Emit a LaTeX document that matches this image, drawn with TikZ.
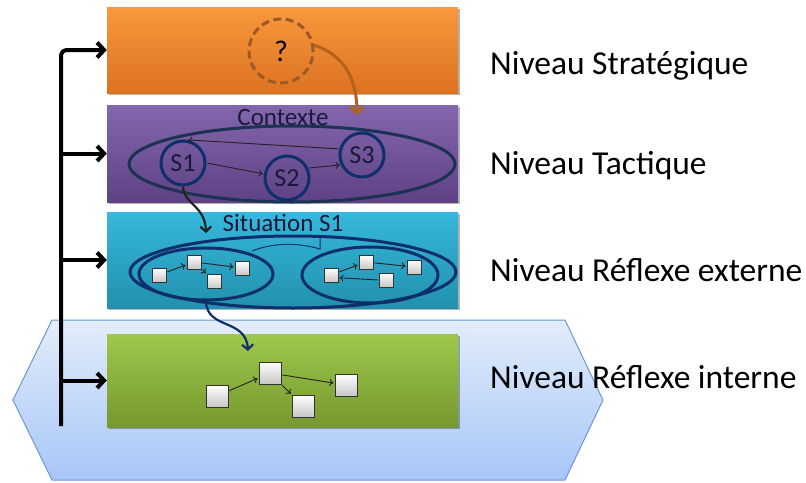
\documentclass[tikz,border=0pt]{standalone}
\usepackage{fontspec}
\setmainfont{Carlito}
\usetikzlibrary{arrows.meta,shapes.geometric,shadows}
\definecolor{orT}{HTML}{F9983C}
\definecolor{orB}{HTML}{DC7222}
\definecolor{puT}{HTML}{8466AE}
\definecolor{puB}{HTML}{5E4284}
\definecolor{cyT}{HTML}{36B8DC}
\definecolor{cyB}{HTML}{2290AE}
\definecolor{grT}{HTML}{9EC84B}
\definecolor{grB}{HTML}{76982E}
\definecolor{hxT}{HTML}{E3EDFB}
\definecolor{hxB}{HTML}{A7C6F7}
\definecolor{hxD}{HTML}{6A98D6}
\definecolor{navy}{HTML}{0F2E6C}
\definecolor{slate}{HTML}{1C3252}
\definecolor{brownd}{HTML}{9C5B25}
\definecolor{browna}{HTML}{B3621C}
\definecolor{darkline}{HTML}{222222}
\definecolor{ctxtext}{HTML}{1A1A3A}
\begin{document}
\begin{tikzpicture}[x=1pt,y=-1pt,
  levelbox/.style={rectangle, minimum width=351pt, inner sep=0pt,
    drop shadow={shadow xshift=1.5pt, shadow yshift=-2pt, opacity=0.3, fill=black}},
  lbl/.style={anchor=base west, inner sep=0pt, font=\fontsize{33.5}{40}\selectfont},
  midtext/.style={inner sep=0pt, text=ctxtext, font=\fontsize{25}{30}\selectfont},
  barrow/.style={line width=4pt, -{Straight Barb[length=7pt,width=15pt]}},
  scirc/.style={circle, draw=navy, line width=3pt, minimum size=44pt, inner sep=0pt,
    text=ctxtext, font=\fontsize{26}{30}\selectfont},
  ring/.style={ellipse, draw=navy, line width=3pt, inner sep=0pt},
  sq/.style={rectangle, draw=black!80, line width=1pt, top color=white, bottom color=black!22,
    inner sep=0pt, drop shadow={shadow xshift=1pt, shadow yshift=-1pt, opacity=0.35, fill=black}},
  ssq/.style={sq, minimum size=14pt},
  gsq/.style={sq, minimum size=22pt},
  thin/.style={draw=darkline, line width=0.9pt, -{To[length=4pt,width=7pt]}, shorten >=1pt, shorten <=1pt}
]
\useasboundingbox (0,0) rectangle (806,482);

% hexagon background
\draw[hxD, line width=1pt, top color=hxT, bottom color=hxB]
  (52,320) -- (565,320) -- (603,400) -- (565,480) -- (52,480) -- (13,400) -- cycle;

% level boxes
\node[levelbox, minimum height=86pt, top color=orT, bottom color=orB] (strat) at (282.5,50) {};
\node[levelbox, minimum height=97pt, top color=puT, bottom color=puB] (tact) at (282.5,153.5) {};
\node[levelbox, minimum height=96pt, top color=cyT, bottom color=cyB] (refext) at (282.5,260) {};
\node[levelbox, minimum height=93pt, top color=grT, bottom color=grB] (refint) at (282.5,380.5) {};

% labels
\node[lbl] (lS) at (490,74) {Niveau Stratégique};
\node[lbl] (lT) at (490,174) {Niveau Tactique};
\node[lbl] (lE) at (490,281) {Niveau Réflexe externe};
\node[lbl] (lI) at (490,388) {Niveau Réflexe interne};

% black bar with arrows
\coordinate (barbot) at (61,426);
\draw[barrow, rounded corners=6pt] (barbot) |- (strat.west);
\draw[barrow] (tact.west -| barbot) -- (tact.west);
\draw[barrow] (refext.west -| barbot) -- (refext.west);
\draw[barrow] (refint.west -| barbot) -- (refint.west);

% strategic level
\node[circle, draw=brownd, line width=3pt, dash pattern=on 8pt off 4.5pt,
  minimum size=64pt, inner sep=0pt, font=\fontsize{30}{34}\selectfont] (q) at (281,51) {?};
\coordinate (ctxTip) at (357,115);
\draw[browna, line width=3pt, -{Straight Barb[length=6pt,width=13pt]}]
  (q.10) .. controls (345,55) and (357,80) .. (ctxTip);

% tactical level
\node[midtext] (ctxlbl) at (283,117) {Contexte};
\node[ellipse, draw=slate, line width=3pt, minimum width=326pt, minimum height=76pt, inner sep=0pt] (ctx) at (292,164) {};
\node[scirc] (S1) at (183,163) {S1};
\node[scirc] (S2) at (287,178) {S2};
\node[scirc] (S3) at (362,155) {S3};
\draw[thin] (S1.east) -- (S2.170);
\draw[thin] (S2.25) -- (S3.205);
\draw[thin] (S3.165) -- (S1.80);

% S1 to external reflex level
\coordinate (sitTip) at (206,233);
\draw[darkline, line width=2.2pt, -{Straight Barb[length=5pt,width=11pt]}]
  (S1.south) .. controls (184,205) and (205,205) .. (sitTip);

% external reflex level
\node[midtext] (sitlbl) at (283,223) {Situation S1};
\node[ring, minimum width=326pt, minimum height=72pt] (big) at (293,272) {};
\node[ring, minimum width=134pt, minimum height=52pt] (Lell) at (206,274) {};
\node[ring, minimum width=136pt, minimum height=56pt] (Rell) at (370,275) {};
\coordinate (arcA) at (252,251);
\coordinate (arcB) at (320,249);
\coordinate (arcC) at (320,238);
\draw[navy, line width=1pt] (arcA) .. controls (275,242) and (300,243) .. (arcB) -- (arcC);

\node[ssq] (a) at (159,275) {};
\node[ssq] (b) at (194,262) {};
\node[ssq] (c) at (214,281) {};
\node[ssq] (d) at (242,268) {};
\draw[thin] (a) -- (b);
\draw[thin] (b) -- (d);
\draw[thin] (b) -- (c);

\node[ssq] (e) at (331,275) {};
\node[ssq] (f) at (366,262) {};
\node[ssq] (g) at (386,280) {};
\node[ssq] (h) at (414,267) {};
\draw[thin] (e) -- (f);
\draw[thin] (f) -- (h);
\draw[thin] (g.west) -- (e.-20);

% arrow to internal reflex level
\coordinate (grTip) at (248,351);
\draw[navy, line width=2.2pt, -{Straight Barb[length=5pt,width=11pt]}]
  (Lell.south) .. controls (207,330) and (246,318) .. (grTip);

% internal reflex level
\node[gsq] (p) at (217,396) {};
\node[gsq] (qq) at (270,373) {};
\node[gsq] (r) at (303,406) {};
\node[gsq] (s) at (346,385) {};
\draw[thin] (p) -- (qq);
\draw[thin] (qq) -- (s);
\draw[thin] (qq) -- (r);
\end{tikzpicture}
\end{document}
